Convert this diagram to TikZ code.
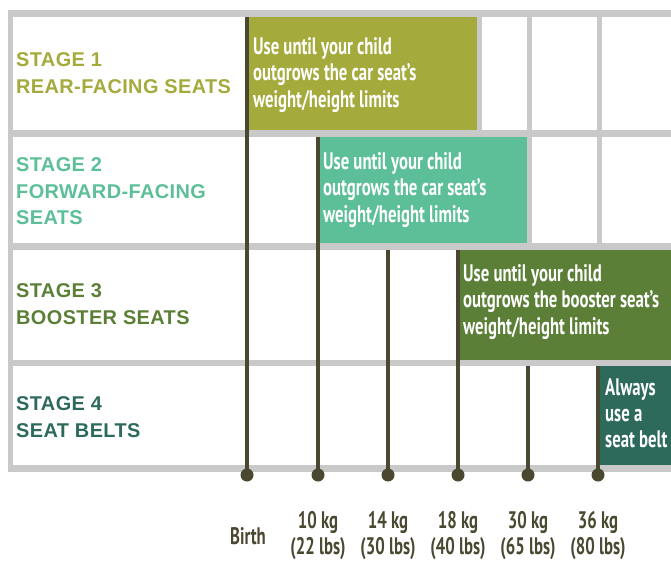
\documentclass[tikz,border=0pt]{standalone}
\usepackage{fontspec}
\setmainfont{PT Sans}
\newfontfamily\stagefont[LetterSpace=2]{Liberation Sans}
\newfontfamily\condfont[FakeStretch=0.7]{PT Sans}

\definecolor{gridgray}{HTML}{C9C9C9}
\definecolor{pole}{HTML}{4A4830}
\definecolor{oliveseat}{HTML}{A4AA3C}
\definecolor{tealseat}{HTML}{5CBF98}
\definecolor{greenseat}{HTML}{5B7F37}
\definecolor{beltseat}{HTML}{2D6A5C}

\tikzset{stagelabel/.style={anchor=north west,inner sep=0,align=left,font=\stagefont\bfseries\fontsize{20}{27}\selectfont},
         boxtext/.style={anchor=north west,inner sep=0,align=left,text=white,font=\condfont\bfseries\fontsize{24}{26.5}\selectfont},
         weightlabel/.style={inner sep=0,align=center,text=pole,font=\condfont\bfseries\fontsize{24}{26}\selectfont},
         pole/.style={draw=pole,line width=4bp},
         dot/.style={circle,fill=pole,inner sep=0,minimum size=13bp}}

\begin{document}
\begin{tikzpicture}[x=1bp,y=-1bp]
                  \useasboundingbox[fill=white] (0,0) rectangle (671,563);
                  % frame and cells
                  \fill[gridgray] (8,10) rectangle (671,472);
                  \fill[white] (13,17) rectangle (477,130);
                  \fill[white] (482,17) rectangle (527,130);
                  \fill[white] (532,17) rectangle (597,130);
                  \fill[white] (602,17) rectangle (671,130);
                  \fill[white] (13,137) rectangle (527,243);
                  \fill[white] (532,137) rectangle (597,243);
                  \fill[white] (602,137) rectangle (671,243);
                  \fill[white] (13,250) rectangle (671,360);
                  \fill[white] (13,366) rectangle (671,465);
                  % coloured spans
                  \fill[oliveseat] (247,17) rectangle (477,130);
                  \fill[tealseat] (318,137) rectangle (527,243);
                  \fill[greenseat] (458,250) rectangle (671,360);
                  \fill[beltseat] (598,366) rectangle (671,465);
                  % weight poles
                  \coordinate (t0) at (247,17);
                  \coordinate (t1) at (318,137);
                  \coordinate (t2) at (388,250);
                  \coordinate (t3) at (458,250);
                  \coordinate (t4) at (528,366);
                  \coordinate (t5) at (598,366);
                  \node[dot] (birth) at (247,475) {};
                  \node[dot] (kg10) at (318,475) {};
                  \node[dot] (kg14) at (388,475) {};
                  \node[dot] (kg18) at (458,475) {};
                  \node[dot] (kg30) at (528,475) {};
                  \node[dot] (kg36) at (598,475) {};
                  \draw[pole] (t0) -- (birth.center);
                  \draw[pole] (t1) -- (kg10.center);
                  \draw[pole] (t2) -- (kg14.center);
                  \draw[pole] (t3) -- (kg18.center);
                  \draw[pole] (t4) -- (kg30.center);
                  \draw[pole] (t5) -- (kg36.center);
                  % stage names
                  \node[stagelabel,text=oliveseat] (stage1) at (16,52) {STAGE 1\\REAR-FACING SEATS};
                  \node[stagelabel,text=tealseat] (stage2) at (16,157) {STAGE 2\\FORWARD-FACING\\SEATS};
                  \node[stagelabel,text=greenseat] (stage3) at (16,283) {STAGE 3\\BOOSTER SEATS};
                  \node[stagelabel,text=beltseat] (stage4) at (16,396) {STAGE 4\\SEAT BELTS};
                  % span texts
                  \node[boxtext] (use1) at (253,37) {Use until your child\\outgrows the car seat’s\\weight/height limits};
                  \node[boxtext] (use2) at (323,152) {Use until your child\\outgrows the car seat’s\\weight/height limits};
                  \node[boxtext] (use3) at (463,264) {Use until your child\\outgrows the booster seat’s\\weight/height limits};
                  \node[boxtext] (use4) at (605,378) {Always\\use a\\seat belt};
                  % weights
                  \node[weightlabel] (lbirth) at (248,536) {Birth};
                  \node[weightlabel,anchor=north] (l10) at (318,511) {10 kg\\(22 lbs)};
                  \node[weightlabel,anchor=north] (l14) at (388,511) {14 kg\\(30 lbs)};
                  \node[weightlabel,anchor=north] (l18) at (458,511) {18 kg\\(40 lbs)};
                  \node[weightlabel,anchor=north] (l30) at (528,511) {30 kg\\(65 lbs)};
                  \node[weightlabel,anchor=north] (l36) at (598,511) {36 kg\\(80 lbs)};
              \end{tikzpicture}
\end{document}
